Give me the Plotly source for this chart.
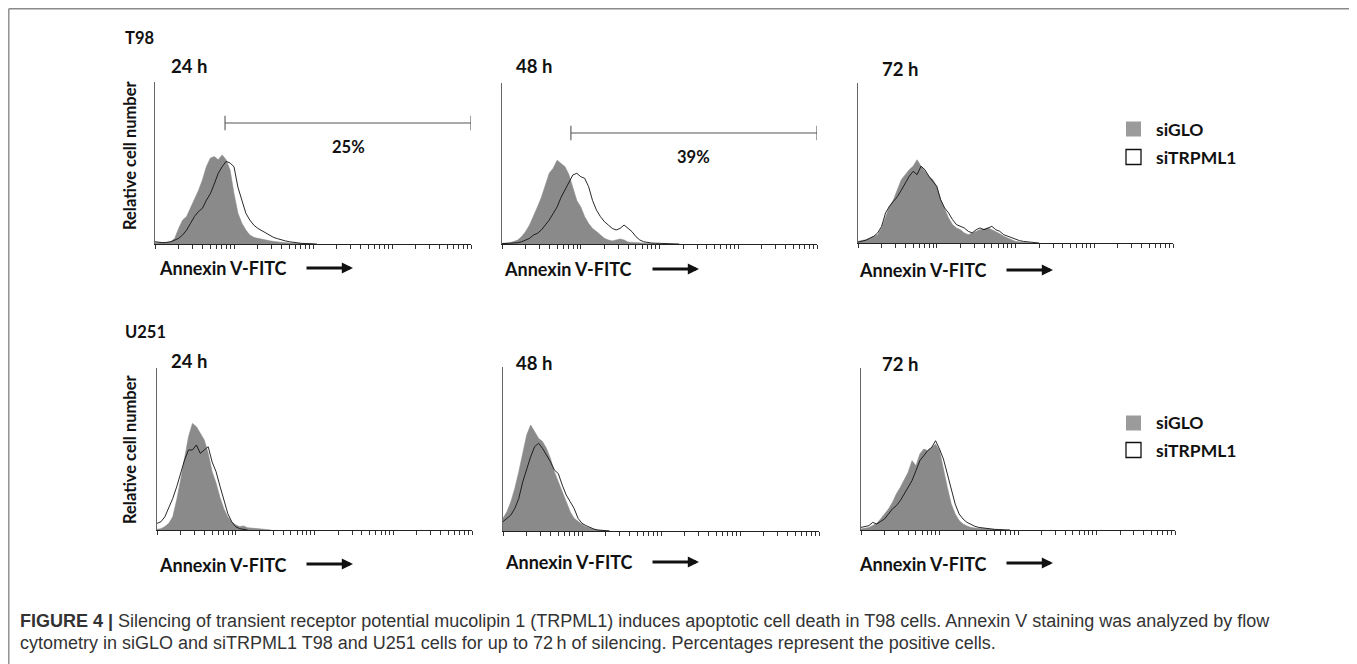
import math
import plotly.graph_objects as go

# window size and page offset (default <body> margin of the html page)
WIN_W, WIN_H = 1357, 664
OFF = 8
FW, FH = WIN_W - OFF, WIN_H - OFF

# ---------------- data (relative cell number, % of axis height) ----------------
# histogram bins, positions in log10(Annexin V-FITC fluorescence), 0.05-decade steps
BIN_LOG10 = [i / 20 for i in range(47)]

T98_24_SIGLO = [0.8, 0.8, 0.8, 1.0, 1.4, 3.5, 9.7, 14.8, 17, 22,
                27, 33, 39.5, 47.7, 53, 54, 52, 55, 52, 45.7,
                31, 19, 12.8, 8.6, 5.6, 4.1, 3.5, 2.9, 2.5, 2.0,
                1.6, 1.2, 1.0, 0.8, 0.6, 0.4, 0.3, 0.2, 0.2, 0.1, 0]
T98_24_SITRPML1 = [1.4, 1.0, 0.8, 1.0, 1.4, 2.4, 3.5, 5.6, 8.6, 12.8,
                   17, 20, 22, 27, 31, 37, 43.6, 47.7, 51, 50,
                   47.7, 35, 27, 19, 14.8, 11.7, 9.7, 8.2, 6.6, 5.6,
                   4.1, 3.3, 2.5, 1.9, 1.4, 1.0, 0.6, 0.4, 0.3, 0.2, 0.1, 0]

T98_48_SIGLO = [0.4, 0.6, 0.8, 1.5, 2.5, 4.6, 7.7, 11.8, 17, 23,
                29, 36.6, 44, 47, 52, 50, 48, 43, 35.6, 27,
                23, 17, 12.8, 9.7, 7.7, 5.6, 3.5, 2.5, 1.9, 2.5,
                3.1, 2.5, 1.2, 1.0, 0.8, 0.6, 0.4, 0.3, 0.2, 0.1, 0]
T98_48_SITRPML1 = [0.2, 0.3, 0.4, 0.6, 0.8, 1.4, 2.5, 3.5, 5.6, 6.6,
                   8.7, 11.8, 14.9, 19, 23, 29, 33.5, 38.7, 42.9, 43.9,
                   41.8, 40.8, 35.6, 27, 21, 17, 13.9, 11.8, 9.7, 8.7,
                   9.7, 11.8, 9.7, 7.7, 4.6, 2.5, 1.4, 0.8, 0.6, 0.5,
                   0.4, 0.3, 0.2, 0.1, 0.1, 0]

T98_72_SIGLO = [1.0, 1.5, 2.1, 3.0, 4.2, 5.2, 9.4, 16.7, 23, 27,
                33, 39.6, 42.7, 45.8, 48, 52, 48, 44.8, 41.7, 39.6,
                35.4, 27, 20.8, 15.6, 11.5, 9.4, 8.3, 6.3, 5.2, 6.3,
                7.3, 8.3, 8.8, 9.4, 8.3, 7.3, 5.8, 4.2, 3.1, 2.1,
                1.0, 0.6, 0.3, 0.1, 0]
T98_72_SITRPML1 = [0.6, 1.0, 1.7, 3.0, 4.2, 6.3, 10.4, 18.8, 23, 26,
                   29, 33, 37.5, 41.7, 44.8, 42.7, 48, 45.8, 41.7, 38.5,
                   35.4, 27, 21.9, 18.8, 14.6, 11.5, 10.4, 9.4, 7.3, 6.3,
                   8.3, 9.4, 8.3, 9.4, 10.4, 8.3, 7.3, 5.2, 4.2, 3.1,
                   2.1, 1.5, 1.0, 0.8, 0.4, 0.1, 0]

U251_24_SIGLO = [0.4, 0.8, 2.1, 4.1, 8.2, 18.5, 30.9, 45.3, 57.6, 65.8,
                 63.8, 59.7, 55.6, 47.3, 36, 29, 20, 13, 8, 5,
                 3.1, 2.1, 2.5, 1.4, 1.2, 0.8, 0.8, 0.6, 0.2, 0]
U251_24_SITRPML1 = [4.1, 5.1, 8.2, 13.4, 19.5, 26.7, 35, 43.2, 49.4, 49.4,
                    52.5, 47.3, 49.4, 51.4, 42, 36, 27, 18, 10, 5,
                    2, 0.8, 0.4, 0]

U251_48_SIGLO = [7.7, 11.8, 17.9, 26, 36.2, 48.4, 58.5, 64.6, 60.6, 56.5,
                 54.5, 50.4, 44.3, 36.2, 30, 24, 17.9, 11.8, 7.7, 5.7,
                 4.1, 2.6, 1.6, 1.0, 0.6, 0.4, 0.2, 0]
U251_48_SITRPML1 = [5.7, 7.7, 9.8, 13.8, 19.9, 30, 38.2, 45.3, 51.4, 53.5,
                    50.4, 46.3, 42.3, 37.2, 35, 28, 22, 17.9, 13.8, 7.7,
                    4.7, 3.3, 2.0, 1.2, 0.6, 0.3, 0.2, 0]

U251_72_SIGLO = [0.6, 1.0, 1.6, 2.8, 4.1, 6.8, 9.9, 13, 17, 22.2,
                 26.3, 30.5, 35.6, 42.8, 39.7, 46.9, 50, 49, 51, 53,
                 49, 36.6, 26.3, 16, 9.9, 5.8, 3.7, 2.5, 1.6, 1.2,
                 1.0, 0.6, 0.4, 0.3, 0.2, 0.1, 0]
U251_72_SITRPML1 = [1.6, 2.2, 2.7, 4.7, 3.7, 5.3, 6.8, 9.9, 13, 15,
                    18.1, 22.2, 26.3, 30.5, 36.6, 42.8, 45.9, 49, 51, 55.1,
                    50, 43.8, 34.6, 24.3, 16, 9.9, 6.8, 4.7, 3.3, 2.3,
                    1.6, 1.2, 0.8, 0.6, 0.4, 0.3, 0.2, 0.1, 0]

TIME_LABELS = ["24 h", "48 h", "72 h", "24 h", "48 h", "72 h"]
CELL_LINES = ["T98", "U251"]
SERIES_NAMES = ["siGLO", "siTRPML1"]
# positive-cell gates (T98 24 h and 48 h): gate bounds and percentage
GATE_LOW = [7.7, 7.5]
GATE_HIGH = [10000, 10000]
GATE_PCT = ["25%", "39%"]

# ---------------- layout (window pixels) ----------------
PANEL_BOX = [(155, 471, 82, 244), (502, 817, 83, 244), (858, 1173, 83, 243),
             (157, 472, 368, 530), (503, 819, 367, 531), (861, 1175, 368, 530)]
GATE_BAR_Y = [74.7, 68.9]
TIME_POS = [(169, 66), (514, 66), (880, 69), (169, 361), (514, 363), (880, 364)]
XLAB_POS = [(157, 268), (502, 269), (857, 270), (157, 565), (503, 562), (857, 564)]
ARROW_TIP = [(353, 268), (699, 269), (1053, 270), (353, 564), (699, 562), (1053, 563)]
ROWLAB_POS = [(123, 38), (123, 332)]
YLAB_POS = [(130, 155), (130, 449)]
LEGEND_Y = [(129, 157), (423, 450)]

GRAY = "rgb(138,138,138)"

SERIES = [(T98_24_SIGLO, T98_24_SITRPML1), (T98_48_SIGLO, T98_48_SITRPML1),
          (T98_72_SIGLO, T98_72_SITRPML1), (U251_24_SIGLO, U251_24_SITRPML1),
          (U251_48_SIGLO, U251_48_SITRPML1), (U251_72_SIGLO, U251_72_SITRPML1)]

TICKS = [m * 10 ** e for e in range(4) for m in range(1, 10)] + [10000]


def px(x):
    return (x - OFF) / FW


def py(y):
    return 1 - (y - OFF) / FH


fig = go.Figure()
layout = {}
annotations = []
shapes = []
LBL = dict(family="Lato, 'Open Sans', sans-serif", color="#111")

for i, ((g, t), box) in enumerate(zip(SERIES, PANEL_BOX), start=1):
    xa = "x" if i == 1 else f"x{i}"
    ya = "y" if i == 1 else f"y{i}"
    xs_g = [10 ** b for b in BIN_LOG10[:len(g)]]
    xs_t = [10 ** b for b in BIN_LOG10[:len(t)]]
    fig.add_trace(go.Scatter(x=xs_g, y=g, mode="lines", fill="tozeroy",
                             fillcolor=GRAY, line=dict(color=GRAY, width=0.6),
                             name=SERIES_NAMES[0], showlegend=False, xaxis=xa, yaxis=ya))
    fig.add_trace(go.Scatter(x=xs_t, y=t, mode="lines",
                             line=dict(color="#111", width=0.9),
                             name=SERIES_NAMES[1], showlegend=False, xaxis=xa, yaxis=ya))
    x0, x1, y0, y1 = box
    kx = "xaxis" if i == 1 else f"xaxis{i}"
    ky = "yaxis" if i == 1 else f"yaxis{i}"
    layout[kx] = dict(domain=[px(x0), px(x1)], anchor=ya, type="log", range=[0, 4],
                      tickvals=TICKS, showticklabels=False, ticks="outside", ticklen=4,
                      tickwidth=1, tickcolor="#333", showline=True, linecolor="#222",
                      linewidth=1, showgrid=False, zeroline=False, fixedrange=True)
    layout[ky] = dict(domain=[py(y1), py(y0)], anchor=xa, range=[0, 100],
                      showticklabels=False, ticks="", showline=True, linecolor="#666",
                      linewidth=1, showgrid=False, zeroline=False, fixedrange=True)

    tx, ty = TIME_POS[i - 1]
    annotations.append(dict(x=px(tx), y=py(ty), xref="paper", yref="paper",
                            xanchor="left", yanchor="middle", showarrow=False,
                            text="<b>%s</b>" % TIME_LABELS[i - 1], font=dict(size=18.5, **LBL)))
    lx, ly = XLAB_POS[i - 1]
    annotations.append(dict(x=px(lx), y=py(ly), xref="paper", yref="paper",
                            xanchor="left", yanchor="middle", showarrow=False,
                            text="<b>Annexin V-FITC</b>", font=dict(size=18, **LBL)))
    ax_, ay_ = ARROW_TIP[i - 1]
    annotations.append(dict(x=px(ax_), y=py(ay_), xref="paper", yref="paper",
                            ax=-48, ay=0, axref="pixel", ayref="pixel", text="",
                            showarrow=True, arrowhead=2, arrowsize=0.8, arrowwidth=2.8,
                            arrowcolor="#111"))

# gates (bracket bars) on T98 24 h / 48 h
for k in range(2):
    xa = "x" if k == 0 else "x2"
    ya = "y" if k == 0 else "y2"
    yb = GATE_BAR_Y[k]
    lo, hi = GATE_LOW[k], GATE_HIGH[k]
    fig.add_trace(go.Scatter(x=[lo, hi, None, lo, lo, None, hi, hi],
                             y=[yb, yb, None, yb - 4.5, yb + 4.5, None, yb - 4.5, yb + 4.5],
                             mode="lines", line=dict(color="#555", width=1.1),
                             showlegend=False, hoverinfo="skip", cliponaxis=False,
                             xaxis=xa, yaxis=ya))
    annotations.append(dict(x=(math.log10(lo) + math.log10(hi)) / 2, y=yb - 15,
                            xref=xa, yref=ya, showarrow=False,
                            text="<b>%s</b>" % GATE_PCT[k], font=dict(size=16.5, **LBL)))

# row labels, y titles, legends
for r in range(2):
    rx, ry = ROWLAB_POS[r]
    annotations.append(dict(x=px(rx), y=py(ry), xref="paper", yref="paper",
                            xanchor="left", yanchor="middle", showarrow=False,
                            text="<b>%s</b>" % CELL_LINES[r], font=dict(size=16.5, **LBL)))
    yx, yy = YLAB_POS[r]
    annotations.append(dict(x=px(yx), y=py(yy), xref="paper", yref="paper",
                            xanchor="center", yanchor="middle", showarrow=False,
                            textangle=-90, text="<b>Relative cell number</b>",
                            font=dict(size=16.5, **LBL)))
    ly1, ly2 = LEGEND_Y[r]
    shapes.append(dict(type="rect", xref="paper", yref="paper",
                       x0=px(1126), x1=px(1141), y0=py(ly1 + 7.5), y1=py(ly1 - 7.5),
                       fillcolor="rgb(155,155,155)", line=dict(width=0)))
    shapes.append(dict(type="rect", xref="paper", yref="paper",
                       x0=px(1126), x1=px(1141), y0=py(ly2 + 7.5), y1=py(ly2 - 7.5),
                       fillcolor="white", line=dict(color="#111", width=1.3)))
    for name, yy_ in zip(SERIES_NAMES, (ly1, ly2)):
        annotations.append(dict(x=px(1154), y=py(yy_), xref="paper", yref="paper",
                                xanchor="left", yanchor="middle", showarrow=False,
                                text="<b>%s</b>" % name, font=dict(size=17.5, **LBL)))

# caption
CAP = dict(family="'Liberation Sans', Arial, sans-serif", size=18, color="#333")
annotations.append(dict(x=px(18), y=py(621), xref="paper", yref="paper",
                        xanchor="left", yanchor="middle", showarrow=False, font=CAP,
                        text="<b>FIGURE 4 |</b> Silencing of transient receptor potential mucolipin 1 "
                             "(TRPML1) induces apoptotic cell death in T98 cells. Annexin V staining "
                             "was analyzed by flow"))
annotations.append(dict(x=px(18), y=py(643), xref="paper", yref="paper",
                        xanchor="left", yanchor="middle", showarrow=False, font=CAP,
                        text="cytometry in siGLO and siTRPML1 T98 and U251 cells for up to 72\u2009h "
                             "of silencing. Percentages represent the positive cells."))

# figure frame (left, top and right edges; runs off the bottom of the page)
for (fx0, fy0, fx1, fy1) in [(8.8, 8.8, 8.8, 700), (8.8, 8.8, 1355, 8.8), (1355, 8.8, 1355, 700)]:
    shapes.append(dict(type="line", xref="paper", yref="paper",
                       x0=px(fx0), y0=py(fy0), x1=px(fx1), y1=py(fy1),
                       line=dict(color="#8a8a8a", width=1.4)))

fig.update_layout(width=FW, height=FH, margin=dict(l=0, r=0, t=0, b=0),
                  paper_bgcolor="white", plot_bgcolor="white",
                  annotations=annotations, shapes=shapes, showlegend=False, **layout)

fig.write_html("out.html")
